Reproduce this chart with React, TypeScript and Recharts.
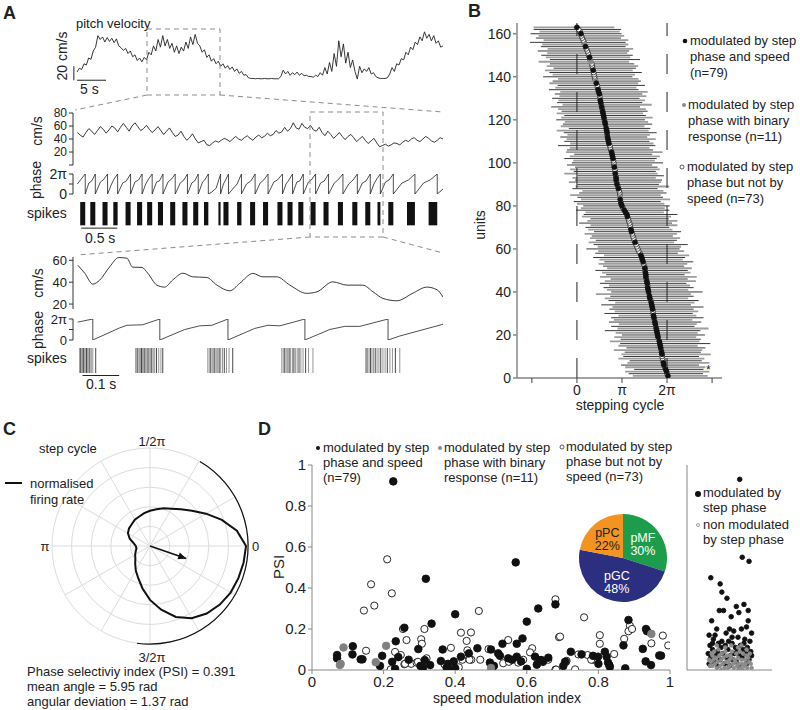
import React from 'react';
import {
  LineChart, Line, XAxis, YAxis, ReferenceLine, ReferenceArea,
  ScatterChart, Scatter, ErrorBar, RadarChart, Radar, PolarGrid,
  PolarAngleAxis, PolarRadiusAxis, PieChart, Pie, Cell, ComposedChart,
} from 'recharts';

const FONT = '"Liberation Sans", Arial, sans-serif';
const INK = '#222';

// ---------- A: pitch velocity (cm/s), one sample every 0.4 s ----------
const TOP_DT = 0.4;
const topVelocity = [
  11, 17, 15, 24, 22, 33, 31, 44, 50, 68, 62,
  66, 58, 65, 59, 64, 57, 63,
  52, 49, 45, 48, 40, 44, 35, 38, 29, 33, 27,
  34, 30, 42, 38, 52, 44, 62, 50, 68, 52,
  62, 48, 56, 42, 52, 40, 50,
  44, 58, 48, 66, 54, 70,
  56, 52, 42, 46, 34, 38, 28, 32, 24, 28, 20, 24, 17, 21, 15, 19, 12, 16, 9, 12, 6, 7, 2,
  1, 1, 0.5, 1, 0.5, 0.5, 1, 0.5, 0.5, 1, 0.5, 0.5, 0.5,
  4, 14, 8, 12, 6, 10, 7, 11, 6, 9, 5, 6, 4, 4, 3, 6, 4,
  10, 6, 18, 8, 26, 12, 40, 20, 60, 35, 55, 25, 42, 18, 30, 12, 0, 20, 10, 16,
  12, 18, 8, 10, 4, 2, 1, 1, 1, 2,
  8, 18, 12, 24, 22, 32, 30, 42, 38, 50, 46, 58, 54, 66, 60, 74, 64, 70, 60, 68, 56, 60, 50, 52,
];

// ---------- A middle: 5 s zoom, speed every 0.04 s ----------
const MID_DT = 0.04;
const midSpeed = [
  50, 46, 43, 50, 56, 52, 47, 53, 59, 55,
  49, 54, 60, 57, 51, 58, 64, 58, 52, 60,
  65, 59, 53, 56, 61, 55, 50, 54, 59, 53,
  47, 52, 57, 50, 44, 46, 52, 44, 38, 42,
  48, 40, 34, 36, 38, 31, 30, 34, 37, 35,
  38, 41, 39, 36, 40, 44, 40, 38, 42, 45,
  41, 38, 43, 46, 42, 44, 49, 45, 47, 53,
  49, 51, 58, 52, 56, 65, 57, 55, 64, 58,
  56, 61, 54, 52, 58, 50, 45, 52, 47, 41,
  45, 50, 44, 39, 44, 47, 42, 36, 40, 44,
  38, 33, 37, 41, 34, 28, 30, 32, 29, 31,
  34, 33, 31, 35, 38, 36, 40, 42, 38, 36,
  40, 44, 41, 37, 35, 38, 42, 40,
];

// [time s, phase in units of pi]
const midPhase = [
  [0, 1.0], [0.11, 2], [0.11, 0], [0.16, 1.1], [0.2, 1.3], [0.25, 2], [0.25, 0],
  [0.32, 1.2], [0.36, 1.4], [0.42, 2], [0.42, 0], [0.47, 0.9], [0.51, 1.5], [0.56, 2], [0.56, 0],
  [0.63, 1.1], [0.68, 1.3], [0.74, 2], [0.74, 0], [0.8, 1.2], [0.85, 1.4], [0.9, 2], [0.9, 0],
  [0.95, 1.0], [0.99, 1.5], [1.04, 2], [1.04, 0], [1.1, 1.2], [1.14, 1.3], [1.19, 2], [1.19, 0],
  [1.26, 1.2], [1.31, 1.5], [1.36, 2], [1.36, 0], [1.43, 1.1], [1.48, 1.4], [1.53, 2], [1.53, 0],
  [1.59, 1.1], [1.63, 1.3], [1.68, 2], [1.68, 0], [1.74, 1.2], [1.77, 1.4], [1.82, 2], [1.82, 0],
  [1.87, 0.2], [1.93, 0.6], [1.99, 2], [1.99, 0], [2.03, 1.0], [2.06, 1.4], [2.1, 2], [2.1, 0],
  [2.17, 0.6], [2.22, 1.0], [2.28, 2], [2.28, 0], [2.35, 1.0], [2.41, 1.3], [2.47, 2], [2.47, 0],
  [2.54, 1.1], [2.59, 1.4], [2.65, 2], [2.65, 0], [2.73, 1.2], [2.78, 1.4], [2.85, 2], [2.85, 0],
  [2.9, 1.0], [2.94, 1.4], [2.99, 2], [2.99, 0], [3.05, 1.2], [3.09, 1.3], [3.14, 2], [3.14, 0],
  [3.21, 1.2], [3.25, 1.4], [3.31, 2], [3.31, 0], [3.38, 1.1], [3.43, 1.3], [3.49, 2], [3.49, 0],
  [3.57, 1.1], [3.62, 1.4], [3.69, 2], [3.69, 0], [3.77, 1.0], [3.83, 1.4], [3.89, 2], [3.89, 0],
  [3.96, 1.1], [4.01, 1.3], [4.07, 2], [4.07, 0], [4.12, 1.0], [4.16, 1.5], [4.21, 2], [4.21, 0],
  [4.28, 1.2], [4.33, 1.4], [4.39, 2], [4.39, 0], [4.51, 1.1], [4.6, 1.4], [4.69, 2], [4.69, 0],
  [4.81, 1.1], [4.9, 1.4], [5.0, 2], [5.0, 0], [5.08, 0.5],
];

// spike bursts [start s, end s]
const midBursts = [
  [0.04, 0.11], [0.18, 0.25], [0.35, 0.42], [0.5, 0.56], [0.67, 0.74], [0.83, 0.9], [0.97, 1.04],
  [1.12, 1.19], [1.29, 1.36], [1.46, 1.53], [1.61, 1.68], [1.76, 1.82], [1.96, 1.99], [2.03, 2.1],
  [2.22, 2.28], [2.4, 2.47], [2.58, 2.65], [2.78, 2.85], [2.92, 2.99], [3.07, 3.14], [3.24, 3.31],
  [3.42, 3.49], [3.62, 3.69], [3.82, 3.89], [4.0, 4.07], [4.17, 4.21], [4.32, 4.39], [4.58, 4.69],
  [4.88, 5.0],
];

// ---------- A bottom: 1 s zoom (ms) ----------
const lowSpeed = [
  [3, 55.5], [22, 48.2], [44, 38.2], [63, 41.9], [90, 54], [115, 62.5], [137, 61.9], [153, 53.7],
  [178, 53.5], [194, 48.2], [219, 37.3], [240, 35.5], [262, 41.9], [290, 48.2], [317, 44.9],
  [355, 44.3], [383, 37.3], [418, 32.1], [445, 38.9], [481, 48], [508, 44.9], [546, 44.9],
  [582, 37.3], [628, 29.8], [656, 31.2], [699, 40.3], [738, 37.3], [781, 37.3], [809, 31.2],
  [836, 25.2], [874, 23], [918, 30], [956, 35.5], [984, 33], [1000, 26.4],
];
const lowPhase = [
  [3, 1.7], [44, 2], [44, 0], [117, 1.15], [137, 1.4], [180, 1.45], [227, 2], [227, 0],
  [295, 1.0], [336, 1.35], [369, 1.4], [413, 2], [413, 0], [486, 1.1], [522, 1.4], [555, 1.35],
  [623, 2], [623, 0], [691, 1.0], [732, 1.3], [773, 1.3], [850, 2], [850, 0], [882, 0.38], [1000, 1.5],
];
const lowSpikes = [
  8, 11, 14, 16, 19, 22, 25, 27, 30, 33, 36, 40, 44, 52,
  161, 164, 167, 171, 174, 177, 180, 183, 186, 189, 192, 195, 198, 202, 205, 209, 213, 218, 224, 230, 235,
  358, 362, 366, 370, 373, 377, 381, 385, 389, 393, 398, 403, 409, 416, 426,
  560, 564, 568, 572, 576, 580, 584, 589, 593, 597, 602, 607, 612, 618, 625, 633, 645,
  790, 794, 798, 802, 806, 810, 815, 820, 825, 830, 836, 842, 848, 855, 862, 870, 882,
];

// ---------- B: preferred phase per unit (units of pi) ----------
const unitMean = [
  2.02, 2.0, 1.99, 1.97, 1.95, 1.93, 1.92, 1.91, 1.9, 1.89,
  1.89, 1.88, 1.87, 1.86, 1.85, 1.84, 1.83, 1.81, 1.8, 1.79,
  1.78, 1.77, 1.76, 1.75, 1.74, 1.73, 1.72, 1.71, 1.7, 1.69,
  1.69, 1.68, 1.67, 1.66, 1.65, 1.64, 1.62, 1.61, 1.6, 1.59,
  1.58, 1.57, 1.57, 1.56, 1.55, 1.54, 1.53, 1.53, 1.52, 1.51,
  1.51, 1.5, 1.48, 1.47, 1.45, 1.44, 1.42, 1.4, 1.37, 1.35,
  1.33, 1.31, 1.29, 1.27, 1.26, 1.24, 1.23, 1.21, 1.2, 1.19,
  1.18, 1.17, 1.15, 1.14, 1.12, 1.11, 1.08, 1.05, 1.02, 1.0,
  0.98, 0.97, 0.96, 0.96, 0.95, 0.95, 0.94, 0.92, 0.91, 0.89,
  0.88, 0.87, 0.87, 0.86, 0.85, 0.85, 0.84, 0.83, 0.82, 0.82,
  0.81, 0.8, 0.79, 0.78, 0.77, 0.75, 0.74, 0.73, 0.71, 0.7,
  0.69, 0.68, 0.67, 0.67, 0.66, 0.65, 0.64, 0.63, 0.62, 0.61,
  0.6, 0.59, 0.58, 0.57, 0.56, 0.55, 0.54, 0.53, 0.52, 0.51,
  0.51, 0.5, 0.48, 0.47, 0.46, 0.45, 0.43, 0.42, 0.4, 0.39,
  0.38, 0.37, 0.36, 0.35, 0.34, 0.33, 0.31, 0.29, 0.28, 0.26,
  0.25, 0.23, 0.21, 0.19, 0.17, 0.16, 0.14, 0.12, 0.1, 0.09,
  0.07, 0.04, 0.0,
];
const unitLo = [
  0.78, 0.85, 0.92, 0.7, 0.88, 0.95, 0.8, 0.74, 0.98, 0.86,
  0.9, 0.82, 1.05, 0.76, 0.93, 0.88, 1.1, 0.84, 0.97, 0.79,
  0.92, 1.15, 0.86, 0.99, 0.81, 1.02, 0.9, 0.95, 0.78, 1.08,
  0.85, 0.96, 0.88, 1.12, 0.8, 0.94, 1.0, 0.87, 1.18, 0.83,
  0.91, 0.98, 0.86, 1.05, 0.93, 0.79, 1.02, 0.88, 0.96, 1.1,
  0.84, 0.92, 1.0, 0.86, 0.95, 1.08, 0.82, 0.99, 0.9, 1.14,
  0.87, 0.94, 1.03, 0.85, 0.97, 0.91, 1.06, 0.83, 0.95, 1.0,
  0.88, 1.12, 0.92, 0.84, 1.01, 0.96, 0.89, 1.07, 0.93, 0.86,
  0.98, 1.04, 0.87, 0.95, 1.1, 0.9, 0.82, 1.02, 0.94, 0.88,
  1.06, 0.91, 0.97, 0.85, 1.13, 0.92, 0.99, 0.87, 1.04, 0.93,
  0.89, 1.08, 0.95, 0.84, 1.01, 0.97, 0.9, 1.15, 0.86, 0.98,
  0.92, 1.05, 0.88, 0.96, 1.11, 0.83, 1.0, 0.94, 0.89, 1.07,
  0.95, 0.87, 1.03, 0.91, 0.98, 1.12, 0.86, 0.97, 0.93, 1.06,
  0.9, 0.99, 0.85, 1.09, 0.94, 0.88, 1.04, 0.96, 0.82, 1.14,
  0.92, 0.98, 1.07, 0.87, 1.01, 0.93, 1.16, 0.89, 0.97, 1.05,
  0.91, 1.1, 0.86, 0.99, 0.94, 1.2, 0.88, 1.03, 0.95, 1.12,
  0.9, 1.0, 0.96,
];
const unitHi = [
  0.88, 0.8, 0.95, 0.84, 0.9, 0.78, 1.02, 0.86, 0.93, 0.82,
  1.08, 0.87, 0.91, 0.99, 0.83, 1.12, 0.89, 0.94, 0.85, 1.05,
  0.9, 0.97, 1.16, 0.86, 0.92, 1.03, 0.84, 1.1, 0.95, 0.88,
  1.0, 0.91, 1.14, 0.87, 0.96, 1.06, 0.85, 0.98, 0.93, 1.2,
  0.89, 1.02, 0.94, 0.87, 1.09, 0.92, 1.13, 0.86, 1.0, 0.95,
  1.04, 0.88, 0.97, 1.11, 0.9, 0.96, 1.07, 0.84, 1.01, 0.93,
  0.98, 1.15, 0.87, 0.95, 1.03, 0.89, 0.99, 1.1, 0.92, 0.86,
  1.05, 0.94, 1.08, 0.9, 0.97, 1.12, 0.85, 1.0, 0.93, 1.06,
  0.96, 0.89, 1.11, 0.95, 0.91, 1.04, 0.98, 0.87, 1.14, 0.93,
  0.99, 1.02, 0.88, 1.07, 0.94, 0.9, 1.0, 0.96, 0.85, 1.09,
  0.92, 0.97, 1.05, 0.89, 1.13, 0.94, 0.87, 1.01, 0.99, 0.91,
  1.06, 0.88, 0.95, 1.1, 0.93, 0.98, 0.86, 1.04, 0.96, 0.9,
  1.08, 0.94, 0.89, 1.0, 0.97, 0.85, 1.12, 0.92, 0.99, 0.88,
  1.03, 0.95, 1.09, 0.9, 0.86, 1.06, 0.93, 1.0, 0.97, 0.84,
  0.91, 1.07, 0.88, 0.96, 1.02, 0.94, 0.85, 1.11, 0.9, 0.98,
  0.87, 0.93, 1.04, 0.89, 0.97, 0.92, 1.0, 0.86, 0.95, 0.9,
  0.88, 0.94, 0.83,
];
// b: phase + speed, g: binary response, o: phase only
const unitKind =
  'bobbobbooo' + 'bbobbbbgbb' + 'bbbobbobbo' + 'obbbbobbgb' + 'bbobbobbbo' + 'boobbbbooo' +
  'ooboooobbo' + 'oooobbbbob' + 'bobgooobob' + 'obbobooboo' + 'obbbbooobb' + 'bbobbbgbbo' +
  'bbbbobobbo' + 'obbboobgoo' + 'oobooogobo' + 'ooobgoooob' + 'oob';

// ---------- C: normalised firing rate over the step cycle ----------
const cycleDeg = [0, 10, 20, 30, 40, 50, 60, 70, 80, 90, 100, 110, 120, 130, 140, 150, 160, 170,
  180, 190, 200, 210, 220, 230, 240, 250, 260, 270, 280, 290, 300, 310, 320, 330, 340, 350];
const firingRate = [0.98, 0.9, 0.78, 0.66, 0.56, 0.49, 0.44, 0.41, 0.38, 0.36, 0.34, 0.32, 0.31,
  0.29, 0.28, 0.26, 0.22, 0.17, 0.145, 0.14, 0.155, 0.175, 0.195, 0.235, 0.29, 0.35, 0.44, 0.55,
  0.66, 0.77, 0.85, 0.9, 0.93, 0.95, 0.96, 0.97];
const PSI = 0.391;
const MEAN_ANGLE = 5.95;
const ANG_DEV = 1.37;

// ---------- D: speed modulation index vs PSI ----------
const speedAndPhase = [
  [0.227, 0.92], [0.318, 0.445], [0.569, 0.525], [0.4, 0.272], [0.68, 0.32], [0.632, 0.3],
  [0.334, 0.226], [0.6, 0.236], [0.258, 0.206], [0.234, 0.14], [0.297, 0.102], [0.462, 0.106],
  [0.365, 0.1], [0.532, 0.128], [0.572, 0.128], [0.588, 0.154], [0.52, 0.081], [0.5, 0.1],
  [0.07, 0.073], [0.07, 0.057], [0.114, 0.116], [0.113, 0.076], [0.136, 0.052], [0.141, 0.052],
  [0.196, 0.069], [0.224, 0.04], [0.232, 0.006], [0.241, 0.063], [0.303, 0.02], [0.31, 0.012],
  [0.315, 0.048], [0.33, 0.024], [0.36, 0.044], [0.376, 0.012], [0.383, 0.001], [0.396, 0.042],
  [0.4, 0.008], [0.416, 0.065], [0.438, 0.081], [0.497, 0.036], [0.503, 0.02], [0.508, 0.02],
  [0.525, 0.069], [0.548, 0.057], [0.559, 0.05], [0.572, 0.065], [0.584, 0.042], [0.6, 0.006],
  [0.623, 0.065], [0.637, 0.048], [0.645, 0.04], [0.628, 0.026], [0.884, 0.244], [0.933, 0.2],
  [0.936, 0.189], [0.924, 0.103], [0.97, 0.071], [0.723, 0.089], [0.753, 0.076], [0.785, 0.069],
  [0.799, 0.065], [0.818, 0.089], [0.823, 0.065], [0.832, 0.016], [0.827, 0.036], [0.875, 0.008],
  [0.707, 0.04], [0.702, 0.02], [0.641, 0.048], [0.932, 0.042], [0.947, 0.024], [0.8, 0.03],
  [0.83, 0.025], [0.975, 0.07], [0.38, 0.03], [0.27, 0.05], [0.19, 0.02], [0.66, 0.06], [0.87, 0.12],
];
const binaryResponse = [
  [0.088, 0.11], [0.207, 0.118], [0.078, 0.024], [0.178, 0.038], [0.948, 0.176], [0.08, 0.03],
  [0.5, 0.01],
];
const phaseOnly = [
  [0.21, 0.54], [0.165, 0.418], [0.223, 0.374], [0.174, 0.314], [0.145, 0.29], [0.466, 0.288],
  [0.68, 0.345], [0.254, 0.2], [0.314, 0.2], [0.416, 0.182], [0.444, 0.183], [0.305, 0.15],
  [0.307, 0.128], [0.264, 0.146], [0.432, 0.142], [0.434, 0.096], [0.388, 0.108], [0.548, 0.146],
  [0.615, 0.106], [0.609, 0.086], [0.493, 0.102], [0.151, 0.094], [0.22, 0.003], [0.232, 0.088],
  [0.248, 0.073], [0.258, 0.028], [0.277, 0.03], [0.292, 0.036], [0.32, 0.057], [0.37, 0.028],
  [0.385, 0.026], [0.41, 0.013], [0.42, 0.05], [0.445, 0.05], [0.47, 0.05], [0.534, 0.033],
  [0.576, 0.036], [0.59, 0.05], [0.68, 0.002], [0.69, 0.16], [0.76, 0.257], [0.693, 0.163],
  [0.888, 0.216], [0.884, 0.189], [0.894, 0.2], [0.872, 0.152], [0.98, 0.168], [0.948, 0.13],
  [0.995, 0.12], [0.804, 0.17], [0.804, 0.128], [0.744, 0.076], [0.77, 0.073], [0.785, 0.05],
  [0.844, 0.078], [0.735, 0.003], [0.711, 0.045], [0.682, 0.002], [0.26, 0.03], [0.296, 0.04],
  [0.55, 0.04], [0.71, 0.04], [0.78, 0.05], [0.44, 0.05], [0.66, 0.05],
];
const cellTypes = [
  { name: 'pMF', value: 30, color: '#1b9d4b', text: '#fff' },
  { name: 'pGC', value: 48, color: '#2c2f80', text: '#fff' },
  { name: 'pPC', value: 22, color: '#f39321', text: '#222' },
];
// strip: [jitter, PSI]
const stripModulated = [
  [0.62, 0.93], [0.65, 0.55], [0.73, 0.53], [0.28, 0.45], [0.39, 0.42], [0.41, 0.38], [0.47, 0.35],
  [0.58, 0.31], [0.67, 0.32], [0.38, 0.29], [0.43, 0.29], [0.61, 0.28], [0.72, 0.29], [0.29, 0.24],
  [0.52, 0.26], [0.72, 0.24], [0.35, 0.2], [0.55, 0.19], [0.64, 0.2], [0.7, 0.21], [0.76, 0.18],
  [0.26, 0.17], [0.33, 0.17], [0.46, 0.18], [0.5, 0.2], [0.6, 0.16], [0.31, 0.15], [0.41, 0.14],
  [0.68, 0.15], [0.74, 0.14], [0.27, 0.12], [0.37, 0.13], [0.45, 0.12], [0.53, 0.13], [0.57, 0.11],
  [0.63, 0.12], [0.71, 0.11], [0.3, 0.1], [0.36, 0.09], [0.48, 0.1], [0.59, 0.09], [0.66, 0.1],
  [0.75, 0.09], [0.25, 0.08], [0.34, 0.07], [0.42, 0.08], [0.51, 0.07], [0.56, 0.08], [0.62, 0.07],
  [0.69, 0.08], [0.28, 0.06], [0.39, 0.05], [0.47, 0.06], [0.54, 0.05], [0.65, 0.06], [0.73, 0.05],
  [0.32, 0.04], [0.44, 0.03], [0.58, 0.04], [0.7, 0.03], [0.26, 0.03], [0.5, 0.02], [0.61, 0.02],
  [0.36, 0.02], [0.76, 0.07], [0.4, 0.11], [0.53, 0.16], [0.67, 0.13], [0.3, 0.13], [0.49, 0.14],
];
const stripNonModulated = [
  [0.27, 0.02], [0.31, 0.05], [0.35, 0.01], [0.38, 0.07], [0.42, 0.03], [0.45, 0.09], [0.49, 0.04],
  [0.52, 0.06], [0.55, 0.01], [0.58, 0.08], [0.61, 0.03], [0.64, 0.05], [0.67, 0.02], [0.7, 0.07],
  [0.73, 0.04], [0.76, 0.01], [0.29, 0.08], [0.33, 0.03], [0.37, 0.1], [0.4, 0.05], [0.44, 0.01],
  [0.47, 0.07], [0.5, 0.02], [0.53, 0.09], [0.57, 0.04], [0.6, 0.06], [0.63, 0.01], [0.66, 0.08],
  [0.69, 0.03], [0.72, 0.06], [0.75, 0.03], [0.26, 0.05], [0.3, 0.02], [0.34, 0.06], [0.39, 0.02],
  [0.43, 0.06], [0.46, 0.04], [0.51, 0.07], [0.54, 0.03], [0.59, 0.02], [0.62, 0.09], [0.65, 0.03],
  [0.68, 0.05], [0.71, 0.01], [0.74, 0.08], [0.28, 0.04], [0.32, 0.09], [0.36, 0.04], [0.41, 0.08],
  [0.48, 0.01], [0.56, 0.05], [0.6, 0.11], [0.7, 0.1], [0.45, 0.11], [0.35, 0.12], [0.52, 0.12],
  [0.64, 0.12], [0.4, 0.0], [0.6, 0.0], [0.5, 0.05], [0.3, 0.07], [0.66, 0.0],
];

// ---------- derived tables ----------
const topData = topVelocity.map((v, i) => ({ t: i * TOP_DT, v }));
const midSpeedData = midSpeed.map((v, i) => ({ t: i * MID_DT, v }));
const midPhaseData = midPhase.map(([t, p]) => ({ t, p }));
const lowSpeedData = lowSpeed.map(([t, v]) => ({ t, v }));
const lowPhaseData = lowPhase.map(([t, p]) => ({ t, p }));
const units = unitMean.map((m, i) => ({ x: m, y: i + 1, err: [unitLo[i], unitHi[i]], kind: unitKind[i] }));
const polarData = cycleDeg.map((d, i) => ({ deg: d, r: firingRate[i] }));
const toXY = (a: number[][]) => a.map(([x, y]) => ({ x, y }));

const Box = ({ x, y, children }: any) => (
  <div style={{ position: 'absolute', left: x, top: y }}>{children}</div>
);

const Txt = ({ x, y, children, size = 13, center = false, rotate = false, bold = false, color = INK }: any) => {
  let transform = 'translateY(-50%)';
  if (center) transform = 'translate(-50%, -50%)';
  if (rotate) transform = 'translate(-50%, -50%) rotate(-90deg)';
  return (
    <div style={{ position: 'absolute', left: x, top: y, fontSize: size, lineHeight: 1, whiteSpace: 'nowrap', transform, fontWeight: bold ? 700 : 400, color }}>
      {children}
    </div>
  );
};

const none = () => <g />;
const dotShape = (fill: string, stroke: string, r: number) => (p: any) => (
  <circle cx={p.cx} cy={p.cy} r={r} fill={fill} stroke={stroke} strokeWidth={0.9} />
);

const phaseTick = (v: number) => (v === 0 ? '0' : v === 2 ? '2π' : '');
const piTick = (v: number) => (v === 0 ? '0' : v === 1 ? 'π' : v === 2 ? '2π' : '');
const axTick = { fontSize: 14, fill: INK, fontFamily: FONT };
const smallTick = { fontSize: 12, fill: INK, fontFamily: FONT };

const RAD = Math.PI / 180;
const pieLabel = (p: any) => {
  const r = p.outerRadius * 0.56;
  const x = p.cx + r * Math.cos(-p.midAngle * RAD);
  const y = p.cy + r * Math.sin(-p.midAngle * RAD);
  const c = cellTypes[p.index];
  return (
    <g>
      <text x={x} y={y - 2} textAnchor="middle" fill={c.text} fontSize={12.5} fontFamily={FONT}>{c.name}</text>
      <text x={x} y={y + 11} textAnchor="middle" fill={c.text} fontSize={12.5} fontFamily={FONT}>{c.value}%</text>
    </g>
  );
};

const arrowData = [
  { x: 0, y: 0 },
  { x: PSI * Math.cos(MEAN_ANGLE), y: PSI * Math.sin(MEAN_ANGLE) },
];
const arrowHead = (p: any) => {
  if (p.index !== 1) return <g key={p.index} />;
  const rot = -MEAN_ANGLE / RAD;
  return <path key={p.index} d="M0,0 L-8,-3.5 L-8,3.5 Z" fill="#111" transform={`translate(${p.cx},${p.cy}) rotate(${rot})`} />;
};
const arcData = [{ v: 2 * ANG_DEV }, { v: 2 * Math.PI - 2 * ANG_DEV }];
const arcStart = (MEAN_ANGLE - ANG_DEV) / RAD;

export default function App() {
  return (
    <div style={{ position: 'absolute', left: 0, top: 0, width: 800, height: 710, background: '#fff', fontFamily: FONT, color: INK }}>
      {/* ---------------- panel A ---------------- */}
      <Txt x={3} y={13} size={18} bold>A</Txt>
      <Txt x={76} y={23}>pitch velocity</Txt>
      <Box x={73} y={28}>
        <LineChart width={370} height={53} data={topData} margin={{ top: 0, right: 0, bottom: 0, left: 0 }}>
          <XAxis type="number" dataKey="t" domain={[-0.7, 63.2]} hide allowDataOverflow />
          <YAxis type="number" domain={[-3, 80]} hide allowDataOverflow />
          <Line dataKey="v" stroke={INK} strokeWidth={0.9} dot={false} isAnimationActive={false} />
          <ReferenceLine segment={[{ x: 0, y: -1.8 }, { x: 5, y: -1.8 }]} stroke={INK} ifOverflow="visible" />
          <ReferenceLine segment={[{ x: -0.55, y: -1.8 }, { x: -0.55, y: 20 }]} stroke={INK} ifOverflow="visible" />
        </LineChart>
      </Box>
      <Txt x={62} y={56} rotate size={14}>20 cm/s</Txt>
      <Txt x={80} y={89} size={14}>5 s</Txt>

      <Box x={33} y={104}>
        <LineChart width={410} height={70} data={midSpeedData} margin={{ top: 9, right: 0, bottom: 9, left: 0 }}>
          <XAxis type="number" dataKey="t" domain={[-0.06, 5.08]} hide allowDataOverflow />
          <YAxis type="number" domain={[0, 80]} ticks={[0, 20, 40, 60, 80]} interval={0} width={40} tickSize={4}
            tickFormatter={(v: number) => (v === 0 ? '' : String(v))} tick={smallTick} stroke="#333" allowDataOverflow />
          <Line dataKey="v" stroke={INK} strokeWidth={0.9} dot={false} isAnimationActive={false} />
        </LineChart>
      </Box>
      <Txt x={37} y={131} rotate size={14}>cm/s</Txt>

      <Box x={33} y={165}>
        <LineChart width={410} height={38} data={midPhaseData} margin={{ top: 9, right: 0, bottom: 9, left: 0 }}>
          <XAxis type="number" dataKey="t" domain={[-0.06, 5.08]} hide allowDataOverflow />
          <YAxis type="number" domain={[0, 2]} ticks={[0, 1, 2]} interval={0} width={40} tickSize={4}
            tickFormatter={phaseTick} tick={axTick} stroke="#333" allowDataOverflow />
          <Line dataKey="p" stroke={INK} strokeWidth={0.8} dot={false} isAnimationActive={false} />
        </LineChart>
      </Box>
      <Txt x={36} y={180} rotate size={14}>phase</Txt>

      <Box x={73} y={202}>
        <LineChart width={370} height={28} data={midBursts.map(([s]) => ({ t: s, y: 0 }))} margin={{ top: 0, right: 0, bottom: 0, left: 0 }}>
          <XAxis type="number" dataKey="t" domain={[-0.06, 5.08]} hide allowDataOverflow />
          <YAxis type="number" domain={[-0.2, 1]} hide allowDataOverflow />
          <Line dataKey="y" stroke="none" dot={false} isAnimationActive={false} />
          {midBursts.map(([s, e], i) => (
            <ReferenceArea key={i} x1={s} x2={e} y1={0} y2={1} fill="#111" fillOpacity={1} stroke="none" />
          ))}
          <ReferenceLine segment={[{ x: 0.055, y: -0.12 }, { x: 0.555, y: -0.12 }]} stroke={INK} ifOverflow="visible" />
        </LineChart>
      </Box>
      <Txt x={27} y={213} size={14}>spikes</Txt>
      <Txt x={85} y={238} size={14}>0.5 s</Txt>

      <Box x={33} y={248}>
        <LineChart width={410} height={70} data={lowSpeedData} margin={{ top: 9, right: 0, bottom: 9, left: 0 }}>
          <XAxis type="number" dataKey="t" domain={[-10, 1000]} hide allowDataOverflow />
          <YAxis type="number" domain={[15.5, 63]} ticks={[20, 40, 60]} interval={0} width={40} tickSize={4}
            tick={{ ...axTick, fontSize: 13 }} stroke="#333" allowDataOverflow />
          <Line type="monotone" dataKey="v" stroke={INK} strokeWidth={0.9} dot={false} isAnimationActive={false} />
        </LineChart>
      </Box>
      <Txt x={38} y={283} rotate size={14}>cm/s</Txt>

      <Box x={33} y={310}>
        <LineChart width={410} height={38} data={lowPhaseData} margin={{ top: 9, right: 0, bottom: 8, left: 0 }}>
          <XAxis type="number" dataKey="t" domain={[-10, 1000]} hide allowDataOverflow />
          <YAxis type="number" domain={[0, 2]} ticks={[0, 1, 2]} interval={0} width={40} tickSize={4}
            tickFormatter={phaseTick} tick={{ ...axTick, fontSize: 13 }} stroke="#333" allowDataOverflow />
          <Line dataKey="p" stroke={INK} strokeWidth={0.8} dot={false} isAnimationActive={false} />
        </LineChart>
      </Box>
      <Txt x={38} y={330} rotate size={14}>phase</Txt>

      <Box x={73} y={348}>
        <LineChart width={370} height={30} data={lowSpikes.map((t) => ({ t, y: 0 }))} margin={{ top: 0, right: 0, bottom: 0, left: 0 }}>
          <XAxis type="number" dataKey="t" domain={[-10, 1000]} hide allowDataOverflow />
          <YAxis type="number" domain={[-0.2, 1]} hide allowDataOverflow />
          <Line dataKey="y" stroke="none" dot={false} isAnimationActive={false} />
          {lowSpikes.map((t, i) => (
            <ReferenceLine key={i} segment={[{ x: t, y: 0 }, { x: t, y: 1 }]} stroke={i % 3 === 1 ? '#333' : '#8a8a8a'} strokeWidth={0.9} />
          ))}
          <ReferenceLine segment={[{ x: 16, y: -0.1 }, { x: 116, y: -0.1 }]} stroke={INK} ifOverflow="visible" />
        </LineChart>
      </Box>
      <Txt x={27} y={358} size={14}>spikes</Txt>
      <Txt x={86} y={384} size={14}>0.1 s</Txt>

      {/* ---------------- panel B ---------------- */}
      <Txt x={468} y={11} size={18} bold>B</Txt>
      <Box x={477} y={18}>
        <ScatterChart width={250} height={390} margin={{ top: 5, right: 5, bottom: 0, left: 0 }}>
          <XAxis type="number" dataKey="x" domain={[-1.33, 3.22]} ticks={[-1, 0, 1, 2, 3]} interval={0} tickFormatter={piTick}
            height={30} tickSize={5} tick={axTick} stroke="#444" allowDataOverflow />
          <YAxis type="number" dataKey="y" domain={[0, 165]} ticks={[0, 20, 40, 60, 80, 100, 120, 140, 160]} interval={0}
            width={40} tickSize={4} tick={axTick} stroke="#888" strokeWidth={1.5} allowDataOverflow />
          <Scatter data={units.filter((_, i) => i % 2 === 0)} shape={none} isAnimationActive={false}>
            <ErrorBar dataKey="err" direction="x" width={0} stroke="#9d9d9d" strokeWidth={1.8} isAnimationActive={false} />
          </Scatter>
          <Scatter data={units.filter((_, i) => i % 2 === 1)} shape={none} isAnimationActive={false}>
            <ErrorBar dataKey="err" direction="x" width={0} stroke="#222" strokeWidth={0.9} isAnimationActive={false} />
          </Scatter>
          <ReferenceLine x={0} stroke="#222" strokeDasharray="20 18" />
          <ReferenceLine x={2} stroke="#222" strokeDasharray="20 18" />
          <Scatter data={units.filter((u) => u.kind === 'o')} shape={dotShape('#fff', '#333', 2.4)} isAnimationActive={false} />
          <Scatter data={units.filter((u) => u.kind === 'g')} shape={dotShape('#8a8a8a', '#8a8a8a', 2.4)} isAnimationActive={false} />
          <Scatter data={units.filter((u) => u.kind === 'b')} shape={dotShape('#111', '#111', 2.4)} isAnimationActive={false} />
        </ScatterChart>
      </Box>
      <Txt x={480} y={225} rotate size={14}>units</Txt>
      <Txt x={620} y={405} center size={14}>stepping cycle</Txt>
      <Txt x={706} y={370} size={12}>*</Txt>
      <Txt x={690} y={40}>modulated by step</Txt>
      <Txt x={690} y={56}>phase and speed</Txt>
      <Txt x={690} y={72}>(n=79)</Txt>
      <Txt x={688} y={104}>modulated by step</Txt>
      <Txt x={688} y={120}>phase with binary</Txt>
      <Txt x={688} y={136}>response (n=11)</Txt>
      <Txt x={687} y={166}>modulated by step</Txt>
      <Txt x={687} y={182}>phase but not by</Txt>
      <Txt x={687} y={198}>speed (n=73)</Txt>

      {/* ---------------- panel C ---------------- */}
      <Txt x={3} y={429} size={18} bold>C</Txt>
      <Box x={40} y={436}>
        <RadarChart width={220} height={220} cx={110} cy={110} outerRadius={98} data={polarData}
          startAngle={0} endAngle={360} margin={{ top: 0, right: 0, bottom: 0, left: 0 }}>
          <PolarGrid gridType="circle" stroke="#dcdcdc" polarRadius={[19.6, 39.2, 58.8, 78.4, 98]}
            polarAngles={[0, 30, 60, 90, 120, 150, 180, 210, 240, 270, 300, 330]} />
          <PolarAngleAxis dataKey="deg" type="number" domain={[0, 360]} tick={false} axisLine={false} tickLine={false} />
          <PolarRadiusAxis domain={[0, 1]} tick={false} axisLine={false} />
          <Radar dataKey="r" stroke="#111" strokeWidth={2} fill="none" fillOpacity={0} isAnimationActive={false} />
        </RadarChart>
      </Box>
      <Box x={40} y={436}>
        <PieChart width={220} height={220} margin={{ top: 0, right: 0, bottom: 0, left: 0 }}>
          <Pie data={arcData} dataKey="v" cx={110} cy={110} innerRadius={97.5} outerRadius={98.7}
            startAngle={arcStart} endAngle={arcStart + 360} stroke="none" isAnimationActive={false}>
            <Cell fill="#111" />
            <Cell fill="transparent" />
          </Pie>
        </PieChart>
      </Box>
      <Box x={40} y={436}>
        <ComposedChart width={220} height={220} data={arrowData} margin={{ top: 0, right: 0, bottom: 0, left: 0 }}>
          <XAxis type="number" dataKey="x" domain={[-1.1224, 1.1224]} hide allowDataOverflow />
          <YAxis type="number" domain={[-1.1224, 1.1224]} hide allowDataOverflow />
          <Line dataKey="y" stroke="#111" strokeWidth={1.6} dot={arrowHead} isAnimationActive={false} />
        </ComposedChart>
      </Box>
      <Txt x={152} y={441} center>1/2π</Txt>
      <Txt x={45} y={546} center>π</Txt>
      <Txt x={252} y={546}>0</Txt>
      <Txt x={152} y={657} center>3/2π</Txt>
      <Txt x={39} y={448}>step cycle</Txt>
      <Txt x={30} y={483}>normalised</Txt>
      <Txt x={30} y={499}>firing rate</Txt>
      <Txt x={27} y={671}>Phase selectiviy index (PSI) = 0.391</Txt>
      <Txt x={27} y={686}>mean angle = 5.95 rad</Txt>
      <Txt x={27} y={701}>angular deviation = 1.37 rad</Txt>

      {/* ---------------- panel D ---------------- */}
      <Txt x={258} y={429} size={18} bold>D</Txt>
      <Box x={267} y={455}>
        <ScatterChart width={408} height={255} margin={{ top: 10, right: 5, bottom: 0, left: 0 }}>
          <XAxis type="number" dataKey="x" domain={[0, 1]} ticks={[0, 0.2, 0.4, 0.6, 0.8, 1]} interval={0} height={40}
            tickSize={4} tick={{ ...axTick, fontSize: 15 }} stroke="#888" allowDataOverflow />
          <YAxis type="number" dataKey="y" domain={[0, 1]} ticks={[0, 0.2, 0.4, 0.6, 0.8, 1]} interval={0} width={45}
            tickSize={4} tick={{ ...axTick, fontSize: 15 }} stroke="#888" allowDataOverflow />
          <Scatter data={toXY(phaseOnly)} shape={dotShape('#fff', '#111', 3.6)} isAnimationActive={false} />
          <Scatter data={toXY(speedAndPhase)} shape={dotShape('#111', '#111', 3.8)} isAnimationActive={false} />
          <Scatter data={toXY(binaryResponse)} shape={dotShape('#808080', '#808080', 3.8)} isAnimationActive={false} />
        </ScatterChart>
      </Box>
      <Txt x={278} y={567} rotate size={15}>PSI</Txt>
      <Txt x={507} y={698} center size={14}>speed modulation index</Txt>
      <Txt x={323} y={447}>modulated by step</Txt>
      <Txt x={323} y={462}>phase and speed</Txt>
      <Txt x={323} y={477}>(n=79)</Txt>
      <Txt x={444} y={447}>modulated by step</Txt>
      <Txt x={444} y={462}>phase with binary</Txt>
      <Txt x={444} y={477}>response (n=11)</Txt>
      <Txt x={566} y={446}>modulated by step</Txt>
      <Txt x={566} y={461}>phase but not by</Txt>
      <Txt x={566} y={476}>speed (n=73)</Txt>

      <Box x={573} y={514}>
        <PieChart width={100} height={90} margin={{ top: 0, right: 0, bottom: 0, left: 0 }}>
          <Pie data={cellTypes} dataKey="value" nameKey="name" cx={50} cy={44} outerRadius={44}
            startAngle={90} endAngle={-270} stroke="none" label={pieLabel} labelLine={false} isAnimationActive={false}>
            {cellTypes.map((c) => <Cell key={c.name} fill={c.color} />)}
          </Pie>
        </PieChart>
      </Box>

      <Box x={679} y={460}>
        <ScatterChart width={93} height={215} margin={{ top: 5, right: 0, bottom: 0, left: 0 }}>
          <XAxis type="number" dataKey="x" domain={[0, 1]} height={5} tick={false} tickLine={false} stroke="#888" allowDataOverflow />
          <YAxis type="number" dataKey="y" domain={[0, 1]} ticks={[0, 0.2, 0.4, 0.6, 0.8, 1]} interval={0} width={8}
            tick={false} tickSize={3} stroke="#888" allowDataOverflow />
          <Scatter data={toXY(stripModulated)} shape={dotShape('#111', '#111', 2.3)} isAnimationActive={false} />
          <Scatter data={toXY(stripNonModulated)} shape={dotShape('#8c8c8c', '#8c8c8c', 1.8)} isAnimationActive={false} />
        </ScatterChart>
      </Box>
      <Txt x={703} y={492}>modulated by</Txt>
      <Txt x={703} y={507}>step phase</Txt>
      <Txt x={703} y={524}>non modulated</Txt>
      <Txt x={703} y={539}>by step phase</Txt>

      {/* guides, legend keys */}
      <svg width={800} height={710} style={{ position: 'absolute', left: 0, top: 0, pointerEvents: 'none' }}>
        <g stroke="#8c8c8c" strokeDasharray="5 4" fill="none" strokeWidth={1}>
          <rect x={147} y={29} width={73} height={66} />
          <line x1={147} y1={95} x2={75} y2={110} />
          <line x1={220} y1={95} x2={443} y2={112} />
          <rect x={310} y={112} width={73} height={125} />
          <line x1={310} y1={237} x2={77} y2={255} />
          <line x1={383} y1={237} x2={443} y2={253} />
        </g>
        <line x1={5} y1={483} x2={22} y2={483} stroke="#111" strokeWidth={2} />
        <circle cx={685} cy={41} r={2.3} fill="#111" />
        <circle cx={684} cy={105} r={2} fill="#8a8a8a" />
        <circle cx={682} cy={167} r={2} fill="#fff" stroke="#333" strokeWidth={0.8} />
        <circle cx={318} cy={448} r={2} fill="#111" />
        <circle cx={440} cy={448} r={2} fill="#8a8a8a" />
        <circle cx={562} cy={447} r={2} fill="#fff" stroke="#333" strokeWidth={0.8} />
        <circle cx={698} cy={494} r={3} fill="#111" />
        <circle cx={698} cy={525} r={1.5} fill="#fff" stroke="#888" strokeWidth={0.8} />
      </svg>
    </div>
  );
}
